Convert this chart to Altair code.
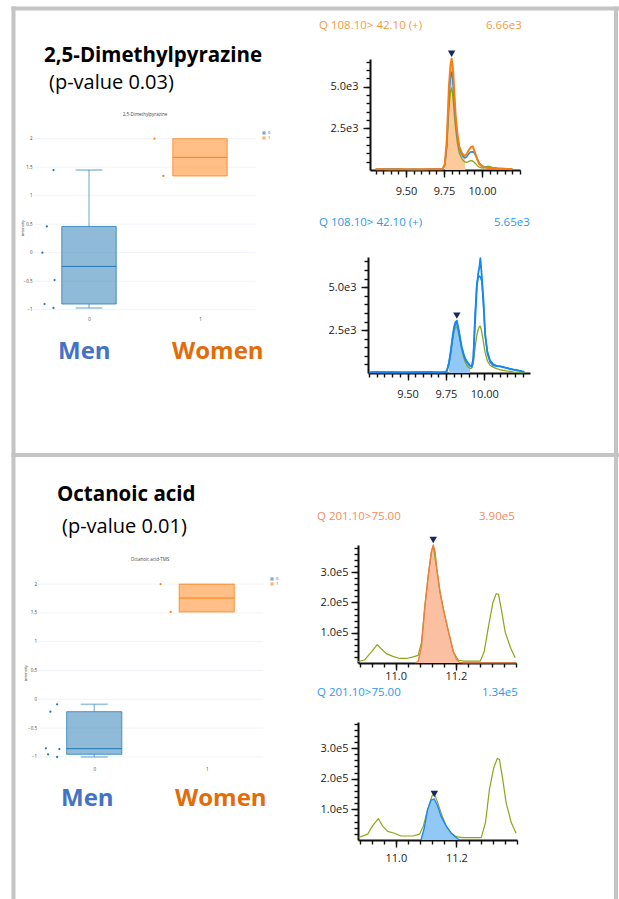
import altair as alt
import pandas as pd

W, H = 619, 899
FONT = "Open Sans"

# ---------------------------------------------------------------------------
# Box plots: scaled intensity per participant (group 0 = men, 1 = women).
# The jitter lists hold each point's horizontal offset in category units.
# ---------------------------------------------------------------------------
GRID_VALUES = [-1, -0.5, 0, 0.5, 1, 1.5, 2]

DMP_MEN = [1.45, 0.46, 0.0, -0.48, -0.90, -0.97]
DMP_MEN_JITTER = [-0.32, -0.38, -0.42, -0.31, -0.40, -0.32]
DMP_WOMEN = [2.0, 1.346]
DMP_WOMEN_JITTER = [-0.41, -0.33]

OCT_MEN = [-0.087, -0.215, -0.851, -0.863, -0.955, -1.0]
OCT_MEN_JITTER = [-0.33, -0.39, -0.43, -0.31, -0.41, -0.33]
OCT_WOMEN = [2.0, 1.516]
OCT_WOMEN_JITTER = [-0.41, -0.32]

# ---------------------------------------------------------------------------
# Chromatograms, 2,5-dimethylpyrazine, transition 108.10 > 42.10 (+)
# ---------------------------------------------------------------------------
DMP_T_TOP = [9.30, 9.35, 9.40, 9.45, 9.50, 9.55, 9.60, 9.65, 9.70, 9.74,
             9.755, 9.768, 9.783, 9.793, 9.80, 9.806, 9.811, 9.818, 9.827, 9.838,
             9.851, 9.866, 9.878, 9.888, 9.90, 9.91, 9.925, 9.939, 9.95, 9.961,
             9.97, 9.98, 9.995, 10.01, 10.04, 10.07, 10.10, 10.15, 10.20]
DMP_TOP_ORANGE = [40, 50, 30, 40, 40, 30, 40, 40, 50, 50,
                  350, 1750, 5100, 6300, 6660, 6300, 5800, 4600, 3200, 2200,
                  1400, 1050, 900, 850, 950, 1150, 1350, 1420, 1150, 850,
                  600, 380, 250, 170, 120, 100, 80, 60, 50]
DMP_TOP_BLUE = [30, 60, 40, 60, 30, 40, 30, 40, 60, 50,
                300, 1500, 4500, 5600, 5860, 5500, 5000, 4000, 2900, 2000,
                1300, 950, 780, 720, 800, 950, 1080, 1100, 1000, 820,
                650, 450, 300, 200, 140, 110, 90, 70, 50]
DMP_TOP_GREEN = [50, 40, 60, 30, 40, 50, 30, 40, 40, 60,
                 250, 1300, 3800, 4700, 4920, 4600, 4100, 3300, 2400, 1600,
                 1000, 700, 550, 480, 450, 500, 560, 540, 450, 350,
                 250, 180, 130, 120, 230, 150, 120, 90, 60]

DMP_T_BOT = [9.25, 9.30, 9.35, 9.40, 9.45, 9.50, 9.55, 9.60, 9.65, 9.70,
             9.745, 9.756, 9.77, 9.782, 9.793, 9.803, 9.812, 9.821, 9.834, 9.845,
             9.853, 9.864, 9.875, 9.886, 9.896, 9.907, 9.918, 9.928, 9.94, 9.951,
             9.96, 9.968, 9.974, 9.983, 9.994, 10.005, 10.02, 10.037, 10.058, 10.08,
             10.10, 10.12, 10.145, 10.17, 10.19, 10.215, 10.243, 10.26]
DMP_BOT_BLUE_A = [40, 60, 30, 50, 40, 30, 50, 40, 60, 30,
                  50, 120, 600, 1330, 2100, 2690, 2950, 3050, 2500, 1900,
                  1520, 1150, 850, 680, 550, 430, 360, 800, 3000, 5000,
                  5800, 6200, 6700, 5700, 4250, 2300, 1150, 650, 450, 400,
                  380, 340, 280, 230, 190, 150, 90, 60]
DMP_BOT_BLUE_B = [30, 40, 60, 30, 50, 40, 30, 60, 40, 50,
                  40, 100, 550, 1250, 2000, 2600, 2850, 2950, 2400, 1800,
                  1450, 1100, 820, 650, 520, 420, 380, 900, 3500, 5200,
                  5550, 5650, 5600, 5350, 4000, 2200, 1250, 750, 520, 430,
                  400, 360, 300, 250, 200, 160, 110, 70]
DMP_BOT_GREEN = [50, 30, 40, 60, 30, 40, 60, 50, 30, 40,
                 60, 150, 650, 1300, 1950, 2450, 2650, 2700, 2300, 1800,
                 1350, 940, 650, 450, 330, 260, 290, 550, 1500, 2200,
                 2550, 2700, 2730, 2400, 1800, 1200, 700, 450, 340, 260,
                 200, 160, 120, 90, 50, 40, 30, 30]

# ---------------------------------------------------------------------------
# Chromatograms, octanoic acid-TMS, transition 201.10 > 75.00
# ---------------------------------------------------------------------------
OCT_T_TOP_GREEN = [10.875, 10.897, 10.919, 10.939, 10.952, 10.969, 10.991, 11.014, 11.036, 11.058,
                   11.075, 11.086, 11.097, 11.108, 11.12, 11.125, 11.137, 11.148, 11.161, 11.176,
                   11.192, 11.209, 11.226, 11.281, 11.294, 11.309, 11.323, 11.334, 11.342, 11.353,
                   11.364, 11.381, 11.397]
OCT_TOP_GREEN = [5000, 10000, 36000, 61000, 47000, 31000, 22000, 15000, 15000, 20000,
                 25000, 69000, 188000, 286000, 373000, 386000, 308000, 232000, 167000, 102000,
                 36000, 9000, 6000, 6000, 36000, 123000, 199000, 229000, 227000, 167000,
                 102000, 53000, 17000]
OCT_T_TOP_ORANGE = [11.066, 11.075, 11.086, 11.097, 11.108, 11.118, 11.125, 11.131, 11.137, 11.148,
                    11.161, 11.176, 11.192, 11.202, 11.212, 11.225, 11.30, 11.40]
OCT_TOP_ORANGE = [0, 5000, 55000, 185000, 285000, 365000, 390000, 370000, 310000, 232000,
                  167000, 102000, 38000, 12000, 2000, 500, 500, 500]

OCT_T_BOT_GREEN = [10.877, 10.907, 10.923, 10.942, 10.956, 10.973, 10.995, 11.017, 11.056, 11.078,
                   11.091, 11.105, 11.12, 11.127, 11.138, 11.153, 11.166, 11.182, 11.199, 11.221,
                   11.282, 11.296, 11.309, 11.323, 11.335, 11.342, 11.353, 11.364, 11.381, 11.397]
OCT_BOT_GREEN = [8000, 19000, 46000, 70000, 46000, 28000, 22000, 13000, 13000, 19000,
                 46000, 100000, 145000, 152000, 122000, 78000, 46000, 22000, 11000, 8000,
                 8000, 57000, 165000, 235000, 266000, 263000, 197000, 122000, 57000, 22000]
OCT_T_BOT_BLUE = [11.083, 11.094, 11.105, 11.116, 11.127, 11.138, 11.149, 11.166, 11.182, 11.199, 11.21]
OCT_BOT_BLUE = [0, 40000, 100000, 130000, 134000, 111000, 78000, 46000, 24000, 8000, 0]

# integration windows (min) and apex retention times (min)
DMP_TOP_WINDOW, DMP_TOP_APEX = (9.755, 9.888), 9.80
DMP_BOT_WINDOW, DMP_BOT_APEX = (9.77, 9.907), 9.821
OCT_TOP_WINDOW, OCT_TOP_APEX = (11.066, 11.212), 11.125
OCT_BOT_WINDOW, OCT_BOT_APEX = (11.083, 11.21), 11.127

# ---------------------------------------------------------------------------
# styling
# ---------------------------------------------------------------------------
FRAME = "#c4c4c4"
INK = "#111111"
LABEL_INK = "#222222"
PLOTLY_INK = "#444444"
GROUP_COLORS = ["#1f77b4", "#ff7f0e"]
LINE_ORANGE = "#fa7d12"
FILL_ORANGE = "#fdca9c"
LINE_SALMON = "#f07c3e"
FILL_SALMON = "#fbc0a2"
LINE_BLUE = "#1787f0"
FILL_BLUE = "#92c8f5"
LINE_GREEN = "#8aa61b"
NAVY = "#142a5c"
HEAD_ORANGE = "#f39a3f"
HEAD_SALMON = "#f28b5e"
HEAD_BLUE = "#2b98ee"
MEN_BLUE = "#4472c4"
WOMEN_ORANGE = "#e36c09"

BOX_HALF = 0.245
CAP_HALF = 0.12


def ticks(start, stop, step):
    n = int(round((stop - start) / step))
    return [round(start + i * step, 6) for i in range(n + 1)]


def sci_label(v):
    mant, exp = f"{v:.2e}".split("e")
    return f"{mant}e{int(exp)}"


def median(vals):
    s = sorted(vals)
    n = len(s)
    return s[n // 2] if n % 2 else (s[n // 2 - 1] + s[n // 2]) / 2


def box_stats(vals):
    # quartiles with the exclusive (median-of-halves) method
    s = sorted(vals)
    half = len(s) // 2
    lower, upper = s[:half], s[half + len(s) % 2:]
    return dict(q1=median(lower), med=median(s), q3=median(upper), lo=s[0], hi=s[-1])


def text_layer(label, x, y, size, color, weight="normal", align="left", angle=0,
               baseline="alphabetic"):
    props = dict(font=FONT, fontSize=size, color=color, fontWeight=weight,
                 align=align, baseline=baseline)
    if angle:
        props["angle"] = angle
    return alt.Chart(pd.DataFrame({"label": [label]})).mark_text(**props).encode(
        x=alt.value(x), y=alt.value(y), text="label:N")


def box_panel(title, groups, xr, yr, cat_axis_y, title_xy, ytitle_xy, legend_xy):
    xs = alt.Scale(domain=[-0.5, 1.5], range=list(xr), nice=False, zero=False)
    ys = alt.Scale(domain=[-1, 2], range=list(yr), nice=False, zero=False)

    boxes, points, whiskers, caps = [], [], [], []
    for code, (vals, jitter) in enumerate(groups):
        st = box_stats(vals)
        color = GROUP_COLORS[code]
        boxes.append(dict(group=str(code), hex=color, b0=code - BOX_HALF, b1=code + BOX_HALF,
                          q1=st["q1"], q3=st["q3"], med=st["med"]))
        if st["lo"] < st["q1"]:
            whiskers.append(dict(x=code, y0=st["lo"], y1=st["q1"], hex=color))
            caps.append(dict(c0=code - CAP_HALF, c1=code + CAP_HALF, y=st["lo"], hex=color))
        if st["hi"] > st["q3"]:
            whiskers.append(dict(x=code, y0=st["q3"], y1=st["hi"], hex=color))
            caps.append(dict(c0=code - CAP_HALF, c1=code + CAP_HALF, y=st["hi"], hex=color))
        for v, j in zip(vals, jitter):
            points.append(dict(x=code + j, v=v, hex=color))

    grid_df = pd.DataFrame({"v": GRID_VALUES, "x0": -0.5, "x1": 1.5})
    grid = alt.Chart(grid_df).mark_rule(color="#ebf0f8", strokeWidth=0.8).encode(
        x=alt.X("x0:Q", scale=xs, axis=alt.Axis(
            orient="bottom", offset=cat_axis_y - H, values=[0, 1], format="d",
            domain=False, ticks=False, grid=False, title=None, zindex=0,
            labelFont=FONT, labelFontSize=4.5, labelColor=PLOTLY_INK, labelPadding=3)),
        x2="x1:Q",
        y=alt.Y("v:Q", scale=ys, axis=alt.Axis(
            orient="left", offset=-xr[0], values=GRID_VALUES, format="~g",
            domain=False, ticks=False, grid=False, title=None, zindex=0,
            labelFont=FONT, labelFontSize=4.5, labelColor=PLOTLY_INK, labelPadding=1.5)),
    )
    whisk = alt.Chart(pd.DataFrame(whiskers)).mark_rule(strokeWidth=1.2, strokeOpacity=0.55).encode(
        x=alt.X("x:Q", scale=xs, axis=None),
        y=alt.Y("y0:Q", scale=ys, axis=None), y2="y1:Q",
        stroke=alt.Stroke("hex:N", scale=None))
    cap = alt.Chart(pd.DataFrame(caps)).mark_rule(strokeWidth=1.6, strokeOpacity=0.45).encode(
        x=alt.X("c0:Q", scale=xs, axis=None), x2="c1:Q",
        y=alt.Y("y:Q", scale=ys, axis=None),
        stroke=alt.Stroke("hex:N", scale=None))
    box = alt.Chart(pd.DataFrame(boxes)).mark_rect(fillOpacity=0.5, strokeWidth=1, strokeOpacity=0.75).encode(
        x=alt.X("b0:Q", scale=xs, axis=None), x2="b1:Q",
        y=alt.Y("q1:Q", scale=ys, axis=None), y2="q3:Q",
        fill=alt.Fill("group:N", scale=alt.Scale(domain=["0", "1"], range=GROUP_COLORS),
                      legend=alt.Legend(orient="none", legendX=legend_xy[0], legendY=legend_xy[1],
                                        title=None, symbolType="square", symbolSize=10,
                                        symbolStrokeWidth=0.5, symbolOpacity=0.6,
                                        labelFont=FONT, labelFontSize=4, labelColor=PLOTLY_INK,
                                        labelOffset=2, rowPadding=1, padding=0)),
        stroke=alt.Stroke("hex:N", scale=None))
    med = alt.Chart(pd.DataFrame(boxes)).mark_rule(strokeWidth=1).encode(
        x=alt.X("b0:Q", scale=xs, axis=None), x2="b1:Q",
        y=alt.Y("med:Q", scale=ys, axis=None),
        stroke=alt.Stroke("hex:N", scale=None))
    pts = alt.Chart(pd.DataFrame(points)).mark_circle(size=5, opacity=1).encode(
        x=alt.X("x:Q", scale=xs, axis=None),
        y=alt.Y("v:Q", scale=ys, axis=None),
        color=alt.Color("hex:N", scale=None))

    return [
        grid, whisk, cap, box, med, pts,
        text_layer(title, title_xy[0], title_xy[1], 4.5, PLOTLY_INK, align="center", baseline="middle"),
        text_layer("intensity", ytitle_xy[0], ytitle_xy[1], 4, PLOTLY_INK, align="center",
                   angle=270, baseline="middle"),
    ]


def chromatogram(spec):
    xs = alt.Scale(domain=spec["xdom"], range=spec["xrng"], nice=False, zero=False)
    ys = alt.Scale(domain=spec["ydom"], range=spec["yrng"], nice=False, zero=False)
    x_at, y_at = spec["xrng"][0], spec["yrng"][0]
    common = dict(grid=False, title=None, zindex=0, tickColor=INK, tickWidth=1.4)
    major_x = alt.Axis(orient="bottom", offset=y_at - H, values=spec["xmajor"], format=spec["xfmt"],
                       tickSize=7, domainColor=INK, domainWidth=2, labelFont=FONT, labelFontSize=11,
                       labelColor=LABEL_INK, labelPadding=spec["xpad"], labelFlush=False,
                       labelOverlap=False, **common)
    major_y = alt.Axis(orient="left", offset=-x_at, values=spec["ymajor"],
                       labelExpr="replace(format(datum.value, '.1e'), '+', '')",
                       tickSize=7, domainColor=INK, domainWidth=2, labelFont=FONT, labelFontSize=11,
                       labelColor=LABEL_INK, labelPadding=spec["ypad"], labelOverlap=False, **common)
    minor_x = alt.Axis(orient="bottom", offset=y_at - H, values=spec["xminor"], labels=False,
                       domain=False, tickSize=4, **common)
    minor_y = alt.Axis(orient="left", offset=-x_at, values=spec["yminor"], labels=False,
                       domain=False, tickSize=4, **common)

    src_t, src_v = spec["fill_src"]
    lo, hi = spec["window"]
    fill_df = pd.DataFrame({"t": src_t, "v": src_v})
    fill_df = fill_df[(fill_df["t"] >= lo) & (fill_df["t"] <= hi)]

    layers = [alt.Chart(fill_df).mark_area(color=spec["fill_color"], opacity=1).encode(
        x=alt.X("t:Q", scale=xs, axis=major_x),
        y=alt.Y("v:Q", scale=ys, axis=major_y))]
    for i, (t, v, color, width) in enumerate(spec["traces"]):
        layers.append(alt.Chart(pd.DataFrame({"t": t, "v": v})).mark_line(
            color=color, strokeWidth=width, strokeJoin="round").encode(
            x=alt.X("t:Q", scale=xs, axis=minor_x if i == 0 else None),
            y=alt.Y("v:Q", scale=ys, axis=minor_y if i == 0 else None)))

    apex_t = spec["apex"]
    apex_v = dict(zip(src_t, src_v))[apex_t]
    layers.append(alt.Chart(pd.DataFrame({"t": [apex_t], "v": [apex_v]})).mark_point(
        shape="triangle-down", filled=True, size=55, color=NAVY, opacity=1, yOffset=-5).encode(
        x=alt.X("t:Q", scale=xs, axis=None), y=alt.Y("v:Q", scale=ys, axis=None)))

    hx, hy = spec["header_xy"]
    layers.append(text_layer(spec["header"], hx, hy, 11.5, spec["header_color"]))
    layers.append(text_layer(sci_label(max(spec["header_trace"])), spec["value_x"], hy, 11.5,
                             spec["header_color"]))
    return layers


def frame_rule(x, y, x2=None, y2=None):
    enc = dict(x=alt.value(x), y=alt.value(y))
    if x2 is not None:
        enc["x2"] = alt.value(x2)
    if y2 is not None:
        enc["y2"] = alt.value(y2)
    return alt.Chart(pd.DataFrame({"k": [0]})).mark_rule(color=FRAME, strokeWidth=4).encode(**enc)


layers = [
    frame_rule(11.5, 8.5, x2=W),
    frame_rule(13.5, 6.5, y2=H),
    frame_rule(616, 6.5, y2=H),
    frame_rule(11.5, 455, x2=W),
]

# ---- panel 1: 2,5-dimethylpyrazine ----
layers += [
    text_layer("2,5-Dimethylpyrazine", 44, 62, 20.5, "#000000", weight="bold"),
    text_layer("(p-value 0.03)", 49, 89, 20, "#000000"),
    text_layer("Men", 58, 359, 24, MEN_BLUE, weight="bold"),
    text_layer("Women", 172, 359, 24, WOMEN_ORANGE, weight="bold"),
]
layers += box_panel("2,5-Dimethylpyrazine",
                    [(DMP_MEN, DMP_MEN_JITTER), (DMP_WOMEN, DMP_WOMEN_JITTER)],
                    xr=(33.5, 255.5), yr=(309.7, 138.7), cat_axis_y=313,
                    title_xy=(145, 115), ytitle_xy=(23, 228), legend_xy=(262, 131))
layers += chromatogram(dict(
    xdom=[9.263, 10.25], xrng=[370, 520], ydom=[0, 6650], yrng=[170, 59],
    xmajor=[9.5, 9.75, 10.0], xminor=ticks(9.30, 10.25, 0.05), xfmt=".2f",
    ymajor=[2500, 5000], yminor=ticks(500, 6500, 500), xpad=8, ypad=5,
    fill_src=(DMP_T_TOP, DMP_TOP_ORANGE), window=DMP_TOP_WINDOW, fill_color=FILL_ORANGE,
    traces=[(DMP_T_TOP, DMP_TOP_GREEN, LINE_GREEN, 1.3),
            (DMP_T_TOP, DMP_TOP_BLUE, LINE_BLUE, 1.5),
            (DMP_T_TOP, DMP_TOP_ORANGE, LINE_ORANGE, 2)],
    apex=DMP_TOP_APEX, header="Q 108.10> 42.10 (+)", header_xy=(319, 29), value_x=486,
    header_color=HEAD_ORANGE, header_trace=DMP_TOP_ORANGE))
layers += chromatogram(dict(
    xdom=[9.243, 10.297], xrng=[368, 530], ydom=[0, 6760], yrng=[373, 257],
    xmajor=[9.5, 9.75, 10.0], xminor=ticks(9.25, 10.25, 0.05), xfmt=".2f",
    ymajor=[2500, 5000], yminor=ticks(500, 6500, 500), xpad=8, ypad=5,
    fill_src=(DMP_T_BOT, DMP_BOT_BLUE_A), window=DMP_BOT_WINDOW, fill_color=FILL_BLUE,
    traces=[(DMP_T_BOT, DMP_BOT_GREEN, LINE_GREEN, 1.3),
            (DMP_T_BOT, DMP_BOT_BLUE_B, LINE_BLUE, 1.5),
            (DMP_T_BOT, DMP_BOT_BLUE_A, LINE_BLUE, 1.8)],
    apex=DMP_BOT_APEX, header="Q 108.10> 42.10 (+)", header_xy=(319, 226), value_x=494,
    header_color=HEAD_BLUE, header_trace=DMP_BOT_BLUE_B))

# ---- panel 2: octanoic acid ----
layers += [
    text_layer("Octanoic acid", 57, 501, 20.5, "#000000", weight="bold"),
    text_layer("(p-value 0.01)", 62, 533, 20, "#000000"),
    text_layer("Men", 61, 806, 24, MEN_BLUE, weight="bold"),
    text_layer("Women", 175, 806, 24, WOMEN_ORANGE, weight="bold"),
]
layers += box_panel("Octanoic acid-TMS",
                    [(OCT_MEN, OCT_MEN_JITTER), (OCT_WOMEN, OCT_WOMEN_JITTER)],
                    xr=(38, 263), yr=(756.9, 584.1), cat_axis_y=763,
                    title_xy=(150, 560), ytitle_xy=(26, 673), legend_xy=(270, 577))
layers += chromatogram(dict(
    xdom=[10.875, 11.40], xrng=[358, 516], ydom=[0, 390000], yrng=[663, 545],
    xmajor=[11.0, 11.2], xminor=ticks(10.88, 11.40, 0.04), xfmt=".1f",
    ymajor=[100000, 200000, 300000], yminor=ticks(20000, 380000, 20000), xpad=0, ypad=3,
    fill_src=(OCT_T_TOP_ORANGE, OCT_TOP_ORANGE), window=OCT_TOP_WINDOW, fill_color=FILL_SALMON,
    traces=[(OCT_T_TOP_GREEN, OCT_TOP_GREEN, LINE_GREEN, 1.2),
            (OCT_T_TOP_ORANGE, OCT_TOP_ORANGE, LINE_SALMON, 1.3)],
    apex=OCT_TOP_APEX, header="Q 201.10>75.00", header_xy=(317, 520), value_x=479,
    header_color=HEAD_SALMON, header_trace=OCT_TOP_ORANGE))
layers += chromatogram(dict(
    xdom=[10.875, 11.40], xrng=[358, 517], ydom=[0, 385000], yrng=[840, 722],
    xmajor=[11.0, 11.2], xminor=ticks(10.88, 11.40, 0.04), xfmt=".1f",
    ymajor=[100000, 200000, 300000], yminor=ticks(20000, 380000, 20000), xpad=5.5, ypad=3,
    fill_src=(OCT_T_BOT_BLUE, OCT_BOT_BLUE), window=OCT_BOT_WINDOW, fill_color=FILL_BLUE,
    traces=[(OCT_T_BOT_GREEN, OCT_BOT_GREEN, LINE_GREEN, 1.2),
            (OCT_T_BOT_BLUE, OCT_BOT_BLUE, LINE_BLUE, 1.3)],
    apex=OCT_BOT_APEX, header="Q 201.10>75.00", header_xy=(317, 696), value_x=482,
    header_color=HEAD_BLUE, header_trace=OCT_BOT_BLUE))

chart = (
    alt.layer(*layers)
    .resolve_scale(x="independent", y="independent", fill="independent")
    .properties(width=W, height=H, padding=0, background="white",
                autosize=alt.AutoSizeParams(type="none"))
    .configure_view(stroke=None)
)

chart.save("out.html", embed_options={"renderer": "svg", "actions": False})
